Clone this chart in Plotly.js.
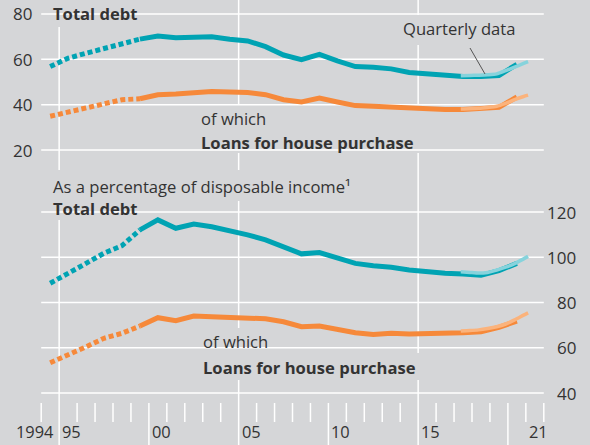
<!DOCTYPE html>
<html><head><meta charset="utf-8">
<script src="https://cdn.plot.ly/plotly-3.0.1.min.js"></script>
<style>html,body{margin:0;padding:0;background:#d5d6d8}</style>
</head><body><div id="chart" style="width:590px;height:445px"></div>
<script>
// ---- data ----
const annualYears = [1994,1995,1996,1997,1998,1999,2000,2001,2002,2003,2004,2005,2006,2007,2008,2009,2010,2011,2012,2013,2014,2015,2016,2017,2018,2019,2020];
const topTotal = [56.8,60.5,62.7,64.9,67.1,68.9,70.3,69.5,69.5,70.0,68.9,68.1,65.6,61.9,59.9,62.2,59.3,56.8,56.5,55.8,54.2,53.5,52.9,52.4,52.4,52.9,57.8];
const topLoans = [34.9,36.8,38.5,40.4,42.2,42.6,44.4,44.7,45.1,45.8,45.6,45.4,44.4,42.2,41.2,42.9,41.2,39.6,39.3,39.0,38.2,37.9,37.9,37.9,38.1,38.8,43.4];
const botTotal = [88.5,92.6,97.3,101.8,105.1,112.1,116.5,112.8,114.7,113.5,111.8,109.9,107.7,104.7,101.5,102.1,99.6,97.3,96.2,95.6,94.4,93.6,92.9,92.6,92.0,94.1,97.3];
const botLoans = [53.4,56.8,60.4,64.2,66.4,69.6,73.3,72.0,74.0,73.7,73.5,73.1,72.8,71.5,69.3,69.6,68.1,66.6,65.9,66.4,66.1,66.1,66.2,66.6,67.1,69.0,71.8];
const quarterYears = [2017.375,2017.875,2018.375,2018.875,2019.375,2019.875,2020.375,2020.875,2021.125];
const qTopTotal = [52.8,52.9,53.0,53.2,53.6,55.0,56.6,58.2,59.0];
const qTopLoans = [38.1,38.2,38.4,38.8,39.3,40.6,42.2,43.6,44.2];
const qBotTotal = [93.6,93.3,93.0,93.3,94.3,95.6,97.2,99.3,100.4];
const qBotLoans = [67.4,67.6,67.9,68.5,69.3,70.5,72.3,74.4,75.4];
const topTicks = [20,40,60,80];
const botTicks = [40,60,80,100,120];
const xTickYears = [1995,2000,2005,2010,2015,2021];
const xTickLabels = ["95","00","05","10","15","21"];
const firstYearLabel = "1994";
const dottedUntil = 1999; // last year of dotted (break in series)

// ---- styles ----
const BG = '#d5d6d8', TEAL = '#00a3b3', ORANGE = '#f6893a', LTEAL = '#86d3dc', LORANGE = '#fbb37c', TXT = '#333333';
const W = 590, H = 445;
const FONT = '"Open Sans", "Noto Sans", sans-serif';
const FS = 16.6;
const px = x => x / W, py = y => 1 - y / H;

const mid = annualYears.map(y => y + 0.5);
const nDot = annualYears.indexOf(dottedUntil) + 1;

function series(vals, color, yaxis) {
  return [
    {x: mid.slice(0, nDot), y: vals.slice(0, nDot), yaxis, mode: 'lines', line: {color, width: 5, dash: '5px,3px'}, hoverinfo: 'skip'},
    {x: mid.slice(nDot - 1), y: vals.slice(nDot - 1), yaxis, mode: 'lines', line: {color, width: 5}, hoverinfo: 'skip'}
  ];
}
function qseries(vals, color, yaxis) {
  return {x: quarterYears, y: vals, yaxis, mode: 'lines', line: {color, width: 3.5, shape: 'spline', smoothing: 0.6}, hoverinfo: 'skip'};
}

const traces = [
  ...series(topTotal, TEAL, 'y'), qseries(qTopTotal, LTEAL, 'y'),
  ...series(topLoans, ORANGE, 'y'), qseries(qTopLoans, LORANGE, 'y'),
  ...series(botTotal, TEAL, 'y2'), qseries(qBotTotal, LTEAL, 'y2'),
  ...series(botLoans, ORANGE, 'y2'), qseries(qBotLoans, LORANGE, 'y2')
];

const shapes = [];
const GL = {color: '#ffffff', width: 1.5};
topTicks.forEach(v => shapes.push({type: 'line', layer: 'below', xref: 'x', yref: 'y', x0: 1994, x1: 2022, y0: v, y1: v, line: GL}));
botTicks.forEach(v => shapes.push({type: 'line', layer: 'below', xref: 'x', yref: 'y2', x0: 1994, x1: 2022, y0: v, y1: v, line: GL}));
for (let yr = 1994; yr <= 2022; yr++) {
  let y0 = py(403), y1 = py(422);
  if (yr % 10 === 5) { y0 = 1; y1 = 0; }
  else if (yr % 10 === 0) { y1 = 0; }
  shapes.push({type: 'line', layer: 'below', xref: 'x', yref: 'paper', x0: yr, x1: yr, y0, y1, line: GL});
}
// background patches behind labels (break the grid, drawn under the data lines)
function gap(x0, y0, x1, y1) {
  shapes.push({type: 'rect', layer: 'below', xref: 'paper', yref: 'paper', x0: px(x0), x1: px(x1), y0: py(y1), y1: py(y0), fillcolor: BG, line: {width: 0}});
}
gap(45, 0, 143, 27);      // Total debt (top)
gap(398, 15, 516, 45);    // Quarterly data
gap(193, 104, 422, 153);  // of which / Loans (top)
gap(45, 170, 366, 201);   // As a percentage...
gap(45, 201, 143, 220);   // Total debt (bottom)
gap(197, 328, 277, 353);  // of which (bottom)
gap(197, 353, 422, 380);  // Loans (bottom)
// leader line for "Quarterly data"
shapes.push({type: 'line', xref: 'paper', yref: 'paper', x0: px(470), y0: py(48), x1: px(485), y1: py(74), line: {color: '#555', width: 1}});

const ann = [];
function txt(text, x, y, opts = {}) {
  ann.push(Object.assign({text, xref: 'paper', yref: 'paper', x: px(x), y: py(y), showarrow: false,
    xanchor: 'left', yanchor: 'middle', font: {family: FONT, size: FS, color: TXT}}, opts));
}
topTicks.forEach(v => ann.push({text: String(v), xref: 'paper', yref: 'y', x: px(34), y: v, showarrow: false, xanchor: 'right', yanchor: 'middle', font: {family: FONT, size: 17, color: TXT}}));
botTicks.forEach(v => ann.push({text: String(v), xref: 'paper', yref: 'y2', x: px(578), y: v, showarrow: false, xanchor: 'right', yanchor: 'middle', font: {family: FONT, size: 17, color: TXT}}));
txt('<b>Total debt</b>', 51, 13);
txt('Quarterly data', 401, 29);
txt('of which', 199, 118);
txt('<b>Loans for house purchase</b>', 199, 142);
txt('As a percentage of disposable income¹', 51, 186);
txt('<b>Total debt</b>', 51, 209);
txt('of which', 201, 341);
txt('<b>Loans for house purchase</b>', 201, 367);
// x tick labels
xTickYears.forEach((yr, i) => ann.push({text: xTickLabels[i], xref: 'x', yref: 'paper', x: yr, y: 0, xshift: 1, showarrow: false, xanchor: 'left', yanchor: 'bottom', font: {family: FONT, size: 16.4, color: TXT}}));
ann.push({text: firstYearLabel, xref: 'x', yref: 'paper', x: 1995, y: 0, xshift: -3, showarrow: false, xanchor: 'right', yanchor: 'bottom', font: {family: FONT, size: 16.4, color: TXT}});

const layout = {
  width: W, height: H, margin: {l: 0, r: 0, t: 0, b: 0, pad: 0},
  paper_bgcolor: BG, plot_bgcolor: BG, showlegend: false,
  xaxis: {range: [1991.705, 2024.574], visible: false, fixedrange: true},
  yaxis: {range: [-110.1, 86.17], visible: false, fixedrange: true},
  yaxis2: {range: [17.02, 213.7], overlaying: 'y', visible: false, fixedrange: true},
  shapes, annotations: ann
};
Plotly.newPlot('chart', traces, layout, {staticPlot: true, displayModeBar: false});
</script></body></html>
